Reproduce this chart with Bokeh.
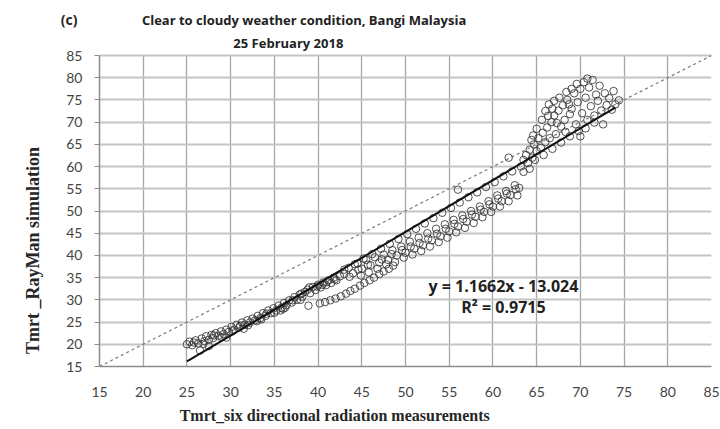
from bokeh.plotting import figure
from bokeh.models import Range1d, FixedTicker, Label, LinearAxis, Grid
from bokeh.embed import file_html
from bokeh.resources import INLINE

# Measured (six-directional) vs simulated (RayMan) Tmrt, in deg C, as (measured, simulated)
morning_band = [
    (25.0, 20.0), (25.3, 20.6), (25.6, 19.8), (26.0, 20.9), (26.3, 20.2), (26.7, 21.3),
    (27.0, 20.7), (27.2, 21.8), (27.5, 21.0), (27.8, 22.1), (28.0, 21.4), (28.3, 22.5),
    (28.6, 21.9), (28.9, 22.9), (29.2, 22.3), (29.5, 23.3), (29.8, 22.8), (30.1, 23.9),
    (30.4, 23.3), (30.7, 24.4), (31.0, 23.8), (31.3, 24.9), (31.6, 24.4), (31.9, 25.4),
    (32.2, 24.9), (32.5, 25.8), (32.8, 25.4), (33.1, 26.4), (33.4, 25.9), (33.7, 27.0),
    (34.0, 26.4), (34.3, 27.6), (34.6, 27.0), (34.9, 28.1), (35.2, 27.6), (35.5, 28.7),
    (35.8, 28.2), (36.1, 29.3), (36.4, 28.8), (36.7, 29.9), (37.0, 29.4), (37.3, 30.6),
    (37.6, 30.0), (37.9, 31.2), (38.2, 30.7), (38.5, 31.8), (38.8, 32.3), (39.1, 31.5),
    (39.4, 32.9), (39.7, 32.2), (40.0, 33.4), (40.3, 32.8), (40.6, 33.9), (40.9, 33.3),
    (41.2, 34.4), (41.5, 33.8), (41.8, 35.0), (42.1, 34.4),
    (26.5, 18.6), (27.5, 19.6), (29.5, 21.5), (31.5, 23.5), (33.5, 25.6), (35.7, 27.6),
    (36.0, 28.0), (38.0, 30.0), (38.9, 28.7),
    (25.8, 20.4), (26.9, 20.1), (28.1, 22.0), (29.0, 21.6), (30.2, 22.9), (31.1, 24.2),
    (32.0, 24.3), (33.0, 25.2), (34.1, 26.9), (35.0, 27.1), (36.2, 28.2), (37.1, 29.9),
    (38.1, 31.4), (39.0, 32.8), (39.9, 33.0), (40.5, 33.4), (41.0, 34.0), (41.9, 34.6),
    (42.5, 35.3), (43.0, 35.8),
]

cloudy_branch = [
    (40.2, 29.2), (40.8, 29.5), (41.4, 29.9), (42.0, 30.3), (42.6, 30.8), (43.2, 31.4),
    (43.7, 32.0), (44.2, 32.5), (44.8, 33.2), (45.3, 33.8), (45.9, 34.4), (46.4, 35.0),
    (47.0, 35.8), (47.5, 36.4), (48.1, 37.0), (48.6, 37.7),
]

midday_band = [
    (43.0, 36.8), (43.5, 37.2), (44.0, 36.0), (44.5, 38.2), (45.0, 37.0), (45.5, 39.0),
    (46.0, 37.8), (46.5, 39.6), (47.0, 38.4), (47.5, 40.2), (48.0, 39.0), (48.5, 41.2),
    (49.0, 40.0), (49.5, 42.0), (50.0, 40.6), (50.5, 43.1), (51.0, 41.5), (51.5, 44.0),
    (52.0, 42.3), (52.5, 45.0), (53.0, 43.4), (53.5, 46.0), (54.0, 44.3), (54.5, 47.0),
    (55.0, 45.4), (55.5, 48.0), (56.0, 46.5), (56.5, 49.0), (57.0, 47.6), (57.5, 50.0),
    (58.0, 48.7), (58.5, 51.0), (59.0, 49.8), (59.5, 52.2), (60.0, 51.0), (60.5, 53.5),
    (61.0, 52.2), (61.5, 54.5), (62.0, 53.6), (62.5, 55.8), (63.0, 55.2),
    (44.2, 38.0), (45.2, 39.3), (46.2, 40.3), (47.2, 41.5), (48.2, 42.6), (49.2, 43.7),
    (50.2, 44.8), (51.2, 46.0), (52.2, 47.2), (53.2, 48.4), (54.2, 49.6), (55.2, 50.7),
    (56.2, 51.9), (57.2, 53.1), (58.2, 54.2), (59.2, 55.4), (60.2, 56.5), (61.2, 57.8),
    (62.2, 58.9),
    (43.6, 35.2), (44.9, 35.5), (45.8, 36.2), (46.8, 37.0), (47.8, 38.0), (48.8, 38.5),
    (49.8, 39.5), (50.8, 40.2), (51.8, 41.0), (52.8, 42.0), (53.8, 43.0), (54.8, 44.0),
    (55.8, 45.2), (56.8, 46.2), (57.8, 47.3), (58.8, 48.6), (59.8, 49.8), (60.8, 51.0),
    (61.8, 52.2), (62.8, 53.5),
    (44.6, 36.8), (45.7, 37.9), (47.3, 39.1), (48.4, 40.3), (49.6, 41.2), (50.6, 42.0),
    (51.6, 42.8), (52.6, 43.8), (53.6, 44.9), (54.6, 46.0), (55.6, 47.1), (56.6, 48.2),
    (57.6, 49.2), (58.6, 50.3), (59.6, 51.5), (60.6, 52.8), (61.6, 53.9), (62.6, 54.9),
    (56.0, 54.8), (61.8, 62.0),
]

peak_fan = [
    (63.2, 60.0), (63.5, 61.5), (63.8, 62.6), (64.0, 60.8), (64.2, 63.8), (64.5, 62.0),
    (64.7, 65.0), (65.0, 63.5), (65.2, 66.4), (65.5, 64.2), (65.7, 67.6), (66.0, 65.5),
    (66.2, 68.8), (66.5, 66.4), (66.7, 70.0), (67.0, 71.5), (67.2, 67.3), (67.5, 72.6),
    (67.8, 69.0), (68.0, 73.8), (68.2, 70.5), (68.5, 75.0), (68.8, 71.8), (69.0, 73.0),
    (69.3, 76.5), (69.5, 69.5), (69.7, 74.5), (70.0, 66.8), (70.0, 77.5), (70.2, 72.0),
    (70.4, 79.0), (70.6, 75.5), (70.8, 70.5), (71.0, 77.8), (71.2, 73.6), (71.4, 79.5),
    (71.6, 71.5), (71.8, 76.2), (72.0, 74.8), (72.2, 78.2), (72.4, 72.6), (72.6, 69.5),
    (72.8, 76.5), (73.0, 73.8), (73.3, 75.4), (73.6, 72.8), (74.0, 74.0), (73.8, 77.0),
    (64.8, 61.5), (65.8, 62.6), (66.8, 64.0), (67.8, 65.4), (68.8, 66.8), (69.8, 68.0),
    (70.6, 68.6), (71.6, 69.9), (68.3, 67.8), (66.3, 71.4), (64.6, 67.0), (63.5, 58.8),
    (64.2, 59.5),
    (65.6, 70.5), (66.0, 72.5), (66.4, 74.0), (67.0, 74.8), (67.6, 75.5), (68.4, 76.8),
    (69.0, 77.5), (69.6, 78.6), (65.0, 68.5), (64.4, 66.0), (66.8, 73.0), (67.3, 69.8),
    (68.7, 74.0), (70.8, 79.8), (74.4, 74.9),
]

# Linear fit reported on the chart and the 1:1 reference line
fit_slope = 1.1662
fit_intercept = -13.024
fit_span = [25.0, 74.0]
identity_span = [15.0, 85.0]
axis_ticks = list(range(15, 90, 5))
axis_lo, axis_hi = 15, 85

points = morning_band + cloudy_branch + midday_band + peak_fan
meas = [pt[0] for pt in points]
sim = [pt[1] for pt in points]

# the frame runs up to the top edge so the heading lines sit inside it;
# axes and grid are bounded to the 15..85 square
y_top = 97.38
p = figure(width=720, height=429, output_backend="svg", toolbar_location=None,
           x_range=Range1d(axis_lo, axis_hi), y_range=Range1d(axis_lo, y_top),
           min_border_left=99, min_border_right=9, min_border_top=0, min_border_bottom=63,
           background_fill_color="white", border_fill_color="white")
p.outline_line_color = None

for ax in (p.xaxis[0], p.yaxis[0]):
    ax.ticker = FixedTicker(ticks=axis_ticks)
    ax.bounds = (axis_lo, axis_hi)
    ax.minor_tick_line_color = None
    ax.axis_line_color = "#8c8c8c"
    ax.axis_line_width = 1.5
    ax.major_label_text_font = "Lato"
    ax.major_label_text_font_size = "14px"
    ax.major_label_text_color = "#444444"

p.yaxis.major_tick_line_color = "#8c8c8c"
p.yaxis.major_tick_out = 5
p.yaxis.major_tick_in = 0
p.yaxis.major_label_standoff = 12
p.xaxis.major_tick_line_color = None
p.xaxis.major_tick_out = 0
p.xaxis.major_tick_in = 0
p.xaxis.major_label_standoff = 20

has_cross_bounds = "cross_bounds" in Grid.properties()
for g in (p.xgrid[0], p.ygrid[0]):
    g.ticker = FixedTicker(ticks=axis_ticks)
    g.bounds = (axis_lo, axis_hi)
    if has_cross_bounds:
        g.cross_bounds = (axis_lo, axis_hi)
p.xgrid.grid_line_color = "#a6a6a6"
p.xgrid.grid_line_width = 1.3
p.ygrid.grid_line_color = "#c4c4c4"
p.ygrid.grid_line_width = 2
if not has_cross_bounds:
    # vertical rules drawn as segments so they stop at the top of the square
    p.xgrid.grid_line_color = None
    p.segment(x0=axis_ticks, y0=[axis_lo] * len(axis_ticks), x1=axis_ticks,
              y1=[axis_hi] * len(axis_ticks), line_color="#a6a6a6", line_width=1.3,
              level="underlay")


def text_axis(side, tick, text, font, size, standoff, orientation="horizontal"):
    # an extra axis that carries one positioned piece of text as its only tick label
    ax = LinearAxis(ticker=FixedTicker(ticks=[tick]), major_label_overrides={tick: text},
                    axis_line_color=None, major_tick_line_color=None,
                    minor_tick_line_color=None, major_tick_out=0, major_tick_in=0,
                    major_label_standoff=standoff, major_label_orientation=orientation,
                    major_label_text_font=font, major_label_text_font_style="bold",
                    major_label_text_font_size=size, major_label_text_color="#262626")
    p.add_layout(ax, side)


text_axis("left", 93.1, "(c)", "Open Sans", "14px", -14)
text_axis("left", 41.1, "Tmrt _RayMan simulation", "Liberation Serif", "18px", 14,
          orientation="parallel")
text_axis("below", 41.9, "Tmrt_six directional radiation measurements",
          "Liberation Serif", "16px", 7)

# 1:1 line
p.line(identity_span, identity_span, line_color="#7a7a7a", line_width=1.2, line_dash="3 3")

# observations
p.scatter(meas, sim, marker="circle", size=7.5, fill_color=None,
          line_color="#333333", line_width=1, line_alpha=0.85)

# regression line
fit_y = [fit_slope * v + fit_intercept for v in fit_span]
p.line(fit_span, fit_y, line_color="#111111", line_width=2)


def data_label(x, y, text, size="13px"):
    p.add_layout(Label(x=x, y=y, text=text, text_font="Open Sans", text_font_style="bold",
                       text_font_size=size, text_color="#222222",
                       text_align="center", text_baseline="middle"))


data_label(38.4, 93.1, "Clear to cloudy weather condition, Bangi Malaysia")
data_label(36.6, 87.9, "25 February 2018")
data_label(61.2, 33.2, "y = 1.1662x - 13.024", size="16px")
data_label(61.2, 28.3, "R² = 0.9715", size="16px")

open("out.html", "w").write(file_html(p, INLINE))
